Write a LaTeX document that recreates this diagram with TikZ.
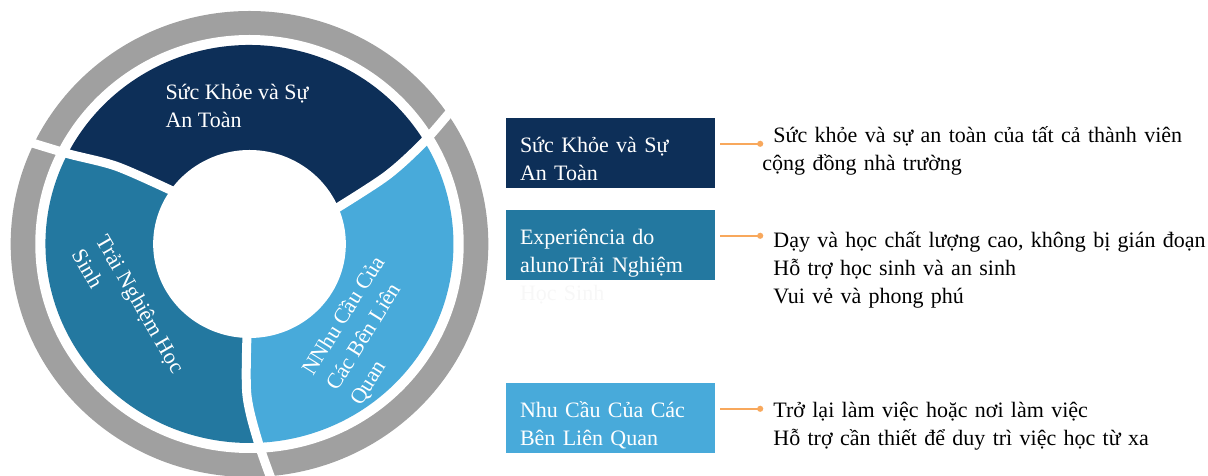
\documentclass[tikz,border=0pt]{standalone}
\usepackage{fontspec}
\setmainfont{Liberation Serif}
\usetikzlibrary{arrows.meta}

\definecolor{darkseg}{RGB}{13,47,88}
\definecolor{midseg}{RGB}{35,120,160}
\definecolor{lightseg}{RGB}{72,170,218}
\definecolor{ringgray}{RGB}{160,160,160}
\definecolor{linkorange}{RGB}{248,168,92}

\begin{document}
\begin{tikzpicture}[x=1pt, y=1pt,
    every node/.style={font=\fontsize{22}{28}\selectfont},
    segtext/.style={text=white, align=left, inner sep=0pt},
    tag/.style={text=white, text width=181pt, inner xsep=14pt, inner ysep=0pt,
                text height=35pt, text depth=35pt, align=left},
    note/.style={text width=480pt, align=left, inner sep=0pt, anchor=base west},
    link/.style={draw=linkorange, line width=1.6pt, -{Circle[length=6pt]}},
    gap/.style={draw=white, line width=9pt}]
    \useasboundingbox (0,0) rectangle (1208,476);
    \clip (0,0) rectangle (1208,476);

    % Anillo
    \begin{scope}[shift={(249.5,232)}, xscale=1.025]
        \fill[ringgray] (0,0) circle[radius=233];
        \fill[white] (0,0) circle[radius=209];

        \coordinate (s1a) at (144:85);   \coordinate (s1b) at (149:150);
        \coordinate (s1c) at (153:199);  \coordinate (s1d) at (155:250);
        \coordinate (s2a) at (22:85);    \coordinate (s2b) at (27:150);
        \coordinate (s2c) at (31:199);   \coordinate (s2d) at (35:250);
        \coordinate (s3a) at (-91.5:85); \coordinate (s3b) at (-91:150);
        \coordinate (s3c) at (-87.5:199);\coordinate (s3d) at (-84:250);

        \fill[darkseg] (0,0) -- (s2a) -- (s2b) -- (s2c)
            arc[start angle=31, end angle=153, radius=199] -- (s1b) -- (s1a) -- cycle;
        \fill[midseg] (0,0) -- (s1a) -- (s1b) -- (s1c)
            arc[start angle=153, end angle=272.5, radius=199] -- (s3b) -- (s3a) -- cycle;
        \fill[lightseg] (0,0) -- (s3a) -- (s3b) -- (s3c)
            arc[start angle=-87.5, end angle=31, radius=199] -- (s2b) -- (s2a) -- cycle;

        \fill[white] (0,0) circle[radius=94];
        \draw[gap] plot[smooth] coordinates {(s1a) (s1b) (s1c) (s1d)};
        \draw[gap] plot[smooth] coordinates {(s2a) (s2b) (s2c) (s2d)};
        \draw[gap] plot[smooth] coordinates {(s3a) (s3b) (s3c) (s3d)};
    \end{scope}

    \node[segtext] (safety) at (237,370) {Sức Khỏe và Sự\\An Toàn};
    \node[segtext, rotate=-60] (learner) at (129,165) {Trải Nghiệm Học\\Sinh};
    \node[segtext, rotate=58] (needs) at (368,145) {NNhu Cầu Của\\Các Bên Liên\\Quan};

    % Cajas
    \node[tag, fill=darkseg] (box1) at (610.5,323) {Sức Khỏe và Sự\\An Toàn};
    \node[tag, fill=midseg] (box2) at (610.5,231)
        {Experiência do\\alunoTrải Nghiệm\\\textcolor{black!3}{Học Sinh}};
    \node[tag, fill=lightseg] (box3) at (610.5,58) {Nhu Cầu Của Các\\Bên Liên Quan};

    % Conectores
    \coordinate (dot1) at ([shift={(48,-26)}]box1.north east);
    \coordinate (dot2) at ([shift={(48,-26)}]box2.north east);
    \coordinate (dot3) at ([shift={(48,-26)}]box3.north east);
    \draw[link, shorten <=5pt] ([yshift=-26pt]box1.north east) -- (dot1);
    \draw[link, shorten <=5pt] ([yshift=-26pt]box2.north east) -- (dot2);
    \draw[link, shorten <=5pt] ([yshift=-26pt]box3.north east) -- (dot3);

    \node[note] (desc1) at ([shift={(-1,1)}]dot1)
        {\hspace*{11pt}Sức khỏe và sự an toàn của tất cả thành viên\\cộng đồng nhà trường};
    \node[note] (desc2) at ([shift={(10,-12)}]dot2)
        {Dạy và học chất lượng cao, không bị gián đoạn\\Hỗ trợ học sinh và an sinh\\Vui vẻ và phong phú};
    \node[note] (desc3) at ([shift={(10,-9)}]dot3)
        {Trở lại làm việc hoặc nơi làm việc\\Hỗ trợ cần thiết để duy trì việc học từ xa};
\end{tikzpicture}
\end{document}
